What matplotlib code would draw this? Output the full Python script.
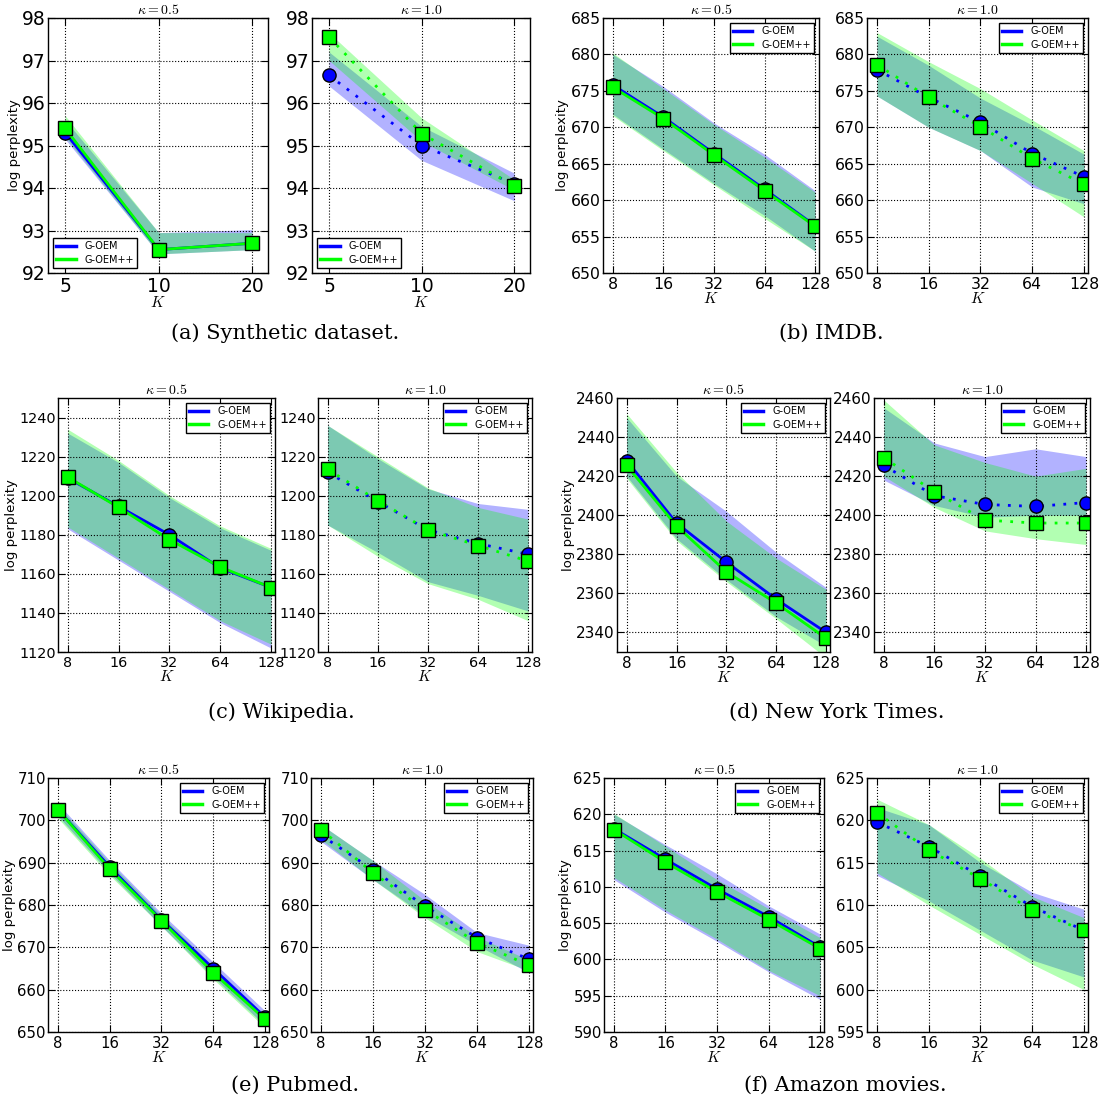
import matplotlib
matplotlib.use("Agg")
import matplotlib.pyplot as plt
from matplotlib.lines import Line2D
from matplotlib.ticker import FixedLocator, FixedFormatter, NullLocator, MultipleLocator

plt.rcParams["mathtext.fontset"] = "cm"
plt.rcParams["font.family"] = "DejaVu Sans"

BLUE = "#0000ff"
GREEN = "#00ff00"

# ── Data ───────────────────────────────────────────────────────────────────────
K_SYN = [5, 10, 20]
K_REAL = [8, 16, 32, 64, 128]

# (a) Synthetic
syn_k05_oem = [95.3, 92.55, 92.7]
syn_k05_oem_lo = [95.15, 92.45, 92.55]
syn_k05_oem_hi = [95.6, 92.95, 93.02]
syn_k05_pp = [95.4, 92.55, 92.7]
syn_k05_pp_lo = [95.2, 92.45, 92.55]
syn_k05_pp_hi = [95.7, 92.95, 92.95]
syn_k10_oem = [96.65, 95.0, 94.1]
syn_k10_oem_lo = [96.4, 94.65, 93.7]
syn_k10_oem_hi = [97.2, 95.45, 94.35]
syn_k10_pp = [97.55, 95.28, 94.05]
syn_k10_pp_lo = [97.0, 95.1, 93.95]
syn_k10_pp_hi = [97.65, 95.65, 94.2]

# (b) IMDB
imdb_k05_oem = [675.8, 671.4, 666.4, 661.5, 656.5]
imdb_k05_oem_lo = [671.8, 667.0, 662.3, 657.9, 653.0]
imdb_k05_oem_hi = [680.0, 675.6, 670.6, 666.3, 661.3]
imdb_k05_pp = [675.5, 671.2, 666.2, 661.3, 656.4]
imdb_k05_pp_lo = [671.6, 666.8, 662.1, 657.5, 653.0]
imdb_k05_pp_hi = [680.2, 675.3, 670.4, 665.9, 661.1]
imdb_k10_oem = [677.9, 674.1, 670.7, 666.4, 663.2]
imdb_k10_oem_lo = [674.3, 670.0, 666.8, 661.8, 659.5]
imdb_k10_oem_hi = [682.5, 678.5, 674.0, 670.3, 666.3]
imdb_k10_pp = [678.6, 674.1, 670.1, 665.7, 662.2]
imdb_k10_pp_lo = [674.3, 670.0, 666.8, 662.3, 657.7]
imdb_k10_pp_hi = [683.0, 679.0, 675.3, 671.0, 666.8]

# (c) Wikipedia
wiki_k05_oem = [1209, 1194.5, 1180, 1163, 1153]
wiki_k05_oem_lo = [1183, 1167, 1151, 1135, 1122]
wiki_k05_oem_hi = [1232, 1217, 1199, 1183.5, 1172]
wiki_k05_pp = [1209.5, 1194, 1177.5, 1163.5, 1153]
wiki_k05_pp_lo = [1184, 1168, 1152, 1136, 1124]
wiki_k05_pp_hi = [1234, 1218, 1200, 1184.5, 1173]
wiki_k10_oem = [1212, 1197, 1182.5, 1175.5, 1170]
wiki_k10_oem_lo = [1185, 1171, 1156, 1149, 1141]
wiki_k10_oem_hi = [1236, 1219, 1203.5, 1196, 1193]
wiki_k10_pp = [1213.5, 1197.5, 1182.5, 1174.5, 1166.5]
wiki_k10_pp_lo = [1185, 1169, 1155, 1147, 1136]
wiki_k10_pp_hi = [1236, 1220, 1204, 1194, 1188]

# (d) New York Times
nyt_k05_oem = [2428, 2396, 2376, 2357, 2340]
nyt_k05_oem_lo = [2420, 2388, 2367, 2348, 2333]
nyt_k05_oem_hi = [2450, 2420, 2402, 2381, 2363]
nyt_k05_pp = [2425.5, 2394.5, 2371, 2355, 2337]
nyt_k05_pp_lo = [2419, 2387, 2366, 2347, 2327]
nyt_k05_pp_hi = [2452, 2422, 2397, 2378, 2362]
nyt_k10_oem = [2425.5, 2410, 2405.5, 2404.5, 2406.5]
nyt_k10_oem_lo = [2418, 2405, 2399, 2400, 2400]
nyt_k10_oem_hi = [2455, 2437, 2430, 2434, 2430]
nyt_k10_pp = [2429.5, 2412, 2397.5, 2396, 2396]
nyt_k10_pp_lo = [2420, 2404, 2392, 2388, 2385]
nyt_k10_pp_hi = [2459, 2436, 2427, 2420, 2424]

# (e) Pubmed
pub_k05_oem = [702.5, 689.0, 676.5, 665.0, 653.5]
pub_k05_oem_lo = [701.0, 687.5, 675.0, 663.0, 651.5]
pub_k05_oem_hi = [704.0, 690.5, 678.0, 666.5, 655.0]
pub_k05_pp = [702.5, 688.5, 676.3, 664.0, 653.0]
pub_k05_pp_lo = [700.5, 687.0, 675.0, 662.5, 651.0]
pub_k05_pp_hi = [703.5, 690.0, 677.5, 665.5, 654.0]
pub_k10_oem = [696.5, 688.3, 679.7, 672.3, 667.2]
pub_k10_oem_lo = [695.0, 686.0, 677.5, 670.5, 664.0]
pub_k10_oem_hi = [699.0, 690.5, 682.5, 673.5, 670.5]
pub_k10_pp = [697.8, 687.6, 678.9, 671.1, 665.8]
pub_k10_pp_lo = [695.5, 686.0, 677.0, 669.0, 664.5]
pub_k10_pp_hi = [699.0, 690.5, 681.0, 672.5, 667.0]

# (f) Amazon movies
amz_k05_oem = [618.0, 613.8, 609.7, 605.9, 601.7]
amz_k05_oem_lo = [611.0, 606.5, 602.5, 598.3, 594.5]
amz_k05_oem_hi = [620.0, 615.8, 611.8, 607.4, 603.5]
amz_k05_pp = [617.9, 613.4, 609.3, 605.5, 601.5]
amz_k05_pp_lo = [611.3, 606.8, 602.8, 598.5, 595.0]
amz_k05_pp_hi = [620.1, 615.6, 611.0, 607.0, 603.0]
amz_k10_oem = [619.8, 616.9, 613.4, 609.8, 607.0]
amz_k10_oem_lo = [613.5, 610.5, 607.0, 603.5, 601.5]
amz_k10_oem_hi = [621.5, 619.5, 615.0, 611.5, 609.5]
amz_k10_pp = [620.9, 616.5, 613.1, 609.4, 607.0]
amz_k10_pp_lo = [613.8, 610.0, 606.5, 603.0, 600.0]
amz_k10_pp_hi = [622.5, 619.5, 615.5, 611.0, 608.5]

CAPTIONS = ["(a) Synthetic dataset.", "(b) IMDB.", "(c) Wikipedia.",
            "(d) New York Times.", "(e) Pubmed.", "(f) Amazon movies."]

# ── Layout (pixel boxes: left, right, top, bottom) ────────────────────────────
W, H = 1099, 1108
fig = plt.figure(figsize=(W / 100, H / 100), dpi=100)


def px_axes(l, r, t, b):
    return fig.add_axes([l / W, 1 - b / H, (r - l) / W, (b - t) / H])


def panel(box, ks, xlim, ylim, ystep, series, ls, ylabel, title, fs, leg_loc):
    ax = px_axes(*box)
    oem, oem_lo, oem_hi, pp, pp_lo, pp_hi = series
    ax.fill_between(ks, oem_lo, oem_hi, color=BLUE, alpha=0.3, lw=0)
    ax.fill_between(ks, pp_lo, pp_hi, color=GREEN, alpha=0.3, lw=0)
    ax.plot(ks, oem, color=BLUE, ls=ls, lw=2, marker="o", ms=9.5,
            mfc=BLUE, mec="k", mew=1)
    ax.plot(ks, pp, color=GREEN, ls=ls, lw=2, marker="s", ms=9.5,
            mfc=GREEN, mec="k", mew=1)
    ax.set_xscale("log", base=2)
    ax.set_xlim(*xlim)
    ax.xaxis.set_major_locator(FixedLocator(ks))
    ax.xaxis.set_major_formatter(FixedFormatter([str(k) for k in ks]))
    ax.xaxis.set_minor_locator(NullLocator())
    ax.set_ylim(*ylim)
    ax.yaxis.set_major_locator(MultipleLocator(ystep))
    ax.grid(True, color="k", ls=":", lw=0.8)
    ax.tick_params(direction="in", top=True, right=True, length=5,
                   labelsize=fs)
    ax.tick_params(axis="y", pad=1.5)
    ax.tick_params(axis="x", pad=3)
    for s in ax.spines.values():
        s.set_linewidth(1)
    ax.set_xlabel("$K$", fontsize=11, labelpad=-1)
    ax.set_title(title, fontsize=10, pad=3)
    if ylabel:
        ax.set_ylabel("log perplexity", fontsize=9.5, labelpad=1)
    handles = [Line2D([0], [0], color=BLUE, lw=2.5, label="G-OEM"),
               Line2D([0], [0], color=GREEN, lw=2.5, label="G-OEM++")]
    leg = ax.legend(handles=handles, loc=leg_loc, fontsize=7, fancybox=False,
                    framealpha=1, edgecolor="k", labelspacing=0.35,
                    borderpad=0.35, handlelength=2.0, handletextpad=0.9,
                    borderaxespad=0.5)
    leg.get_frame().set_linewidth(1)
    return ax


XL_SYN = (4.4, 22.5)
XL_REAL = (7.0, 135.0)
K05 = r"$\kappa=0.5$"
K10 = r"$\kappa=1.0$"
SOLID = "-"
DOT = (0, (1, 3))

# Row 1
panel((48, 268, 18, 273), K_SYN, XL_SYN, (92, 98), 1,
      (syn_k05_oem, syn_k05_oem_lo, syn_k05_oem_hi, syn_k05_pp, syn_k05_pp_lo, syn_k05_pp_hi),
      SOLID, True, K05, 13.5, "lower left")
panel((312, 530, 18, 273), K_SYN, XL_SYN, (92, 98), 1,
      (syn_k10_oem, syn_k10_oem_lo, syn_k10_oem_hi, syn_k10_pp, syn_k10_pp_lo, syn_k10_pp_hi),
      DOT, False, K10, 13.5, "lower left")
panel((603, 819, 18, 273), K_REAL, XL_REAL, (650, 685), 5,
      (imdb_k05_oem, imdb_k05_oem_lo, imdb_k05_oem_hi, imdb_k05_pp, imdb_k05_pp_lo, imdb_k05_pp_hi),
      SOLID, True, K05, 11.3, "upper right")
panel((867, 1088, 18, 273), K_REAL, XL_REAL, (650, 685), 5,
      (imdb_k10_oem, imdb_k10_oem_lo, imdb_k10_oem_hi, imdb_k10_pp, imdb_k10_pp_lo, imdb_k10_pp_hi),
      DOT, False, K10, 11.3, "upper right")

# Row 2
panel((58, 275, 398, 652), K_REAL, XL_REAL, (1120, 1250), 20,
      (wiki_k05_oem, wiki_k05_oem_lo, wiki_k05_oem_hi, wiki_k05_pp, wiki_k05_pp_lo, wiki_k05_pp_hi),
      SOLID, True, K05, 10.4, "upper right")
panel((318, 532, 398, 652), K_REAL, XL_REAL, (1120, 1250), 20,
      (wiki_k10_oem, wiki_k10_oem_lo, wiki_k10_oem_hi, wiki_k10_pp, wiki_k10_pp_lo, wiki_k10_pp_hi),
      DOT, False, K10, 10.4, "upper right")
panel((617, 830, 398, 652), K_REAL, XL_REAL, (2330, 2460), 20,
      (nyt_k05_oem, nyt_k05_oem_lo, nyt_k05_oem_hi, nyt_k05_pp, nyt_k05_pp_lo, nyt_k05_pp_hi),
      SOLID, True, K05, 11, "upper right")
panel((874, 1090, 398, 652), K_REAL, XL_REAL, (2330, 2460), 20,
      (nyt_k10_oem, nyt_k10_oem_lo, nyt_k10_oem_hi, nyt_k10_pp, nyt_k10_pp_lo, nyt_k10_pp_hi),
      DOT, False, K10, 11, "upper right")

# Row 3
panel((48, 269, 778, 1032), K_REAL, XL_REAL, (650, 710), 10,
      (pub_k05_oem, pub_k05_oem_lo, pub_k05_oem_hi, pub_k05_pp, pub_k05_pp_lo, pub_k05_pp_hi),
      SOLID, True, K05, 10.7, "upper right")
panel((311, 533, 778, 1032), K_REAL, XL_REAL, (650, 710), 10,
      (pub_k10_oem, pub_k10_oem_lo, pub_k10_oem_hi, pub_k10_pp, pub_k10_pp_lo, pub_k10_pp_hi),
      DOT, False, K10, 10.7, "upper right")
panel((604, 824, 778, 1032), K_REAL, XL_REAL, (590, 625), 5,
      (amz_k05_oem, amz_k05_oem_lo, amz_k05_oem_hi, amz_k05_pp, amz_k05_pp_lo, amz_k05_pp_hi),
      SOLID, True, K05, 10.7, "upper right")
panel((867, 1088, 778, 1032), K_REAL, XL_REAL, (595, 625), 5,
      (amz_k10_oem, amz_k10_oem_lo, amz_k10_oem_hi, amz_k10_pp, amz_k10_pp_lo, amz_k10_pp_hi),
      DOT, False, K10, 10.7, "upper right")

# Captions
cap_xy = [(285, 333), (831, 333), (281, 712), (837, 712), (295, 1085), (845, 1085)]
for text, (cx, cy) in zip(CAPTIONS, cap_xy):
    fig.text(cx / W, 1 - cy / H, text, ha="center", va="center",
             fontsize=15, family="DejaVu Serif")

fig.savefig("out.png", dpi=100)
